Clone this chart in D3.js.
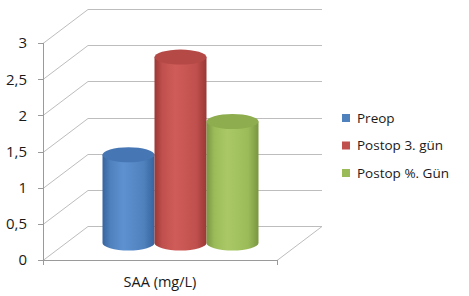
<!DOCTYPE html>
<meta charset="utf-8">
<style>
  body { margin: 0; background: #fff; }
  text { font-family: "Open Sans", "DejaVu Sans", sans-serif; fill: #1a1a1a; }
</style>
<svg width="469" height="296"></svg>
<script src="https://d3js.org/d3.v7.min.js"></script>
<script>

var category = "SAA (mg/L)";
var series = ["Preop", "Postop 3. gün", "Postop %. Gün"];
var values = [1.22, 2.57, 1.68];
var ticks = [0, 0.5, 1, 1.5, 2, 2.5, 3];
var colors = [
  {base: "#4f81bd", dark: "#37649f", light: "#5e91d0", top: "#4676b3"},
  {base: "#c0504d", dark: "#9a3836", light: "#d05c59", top: "#b44946"},
  {base: "#9bbb59", dark: "#7a9642", light: "#aac966", top: "#8dad4e"}
];

var svg = d3.select("svg");

// front plane and depth offset of the 3d box
var x0 = 43, x1 = 277, dx = 45, dy = -34;
var y = d3.scaleLinear().domain([0, 3]).range([260, 43]);
var xb = d3.scaleBand().domain(series).range([80, 236]).paddingInner(0.0);
var fmt = function(d) { return String(d).replace(".", ","); };

var grid = svg.append("g").attr("fill", "none").attr("stroke", "#bdbdbd").attr("stroke-width", 1);

ticks.forEach(function(t) {
  var yy = Math.round(y(t)) + 0.5;
  grid.append("polyline")
      .attr("points", [[x0, yy], [x0 + dx, yy + dy], [x1 + dx, yy + dy]].join(" "));
});
// floor right edge
grid.append("line")
    .attr("x1", x1).attr("y1", y(0) + 0.5)
    .attr("x2", x1 + dx).attr("y2", y(0) + dy + 0.5);

// axes
var ax = svg.append("g").attr("stroke", "#9a9a9a").attr("stroke-width", 1).attr("fill", "none");
ax.append("line").attr("x1", x0 + 0.5).attr("x2", x0 + 0.5).attr("y1", y(3)).attr("y2", y(0) + 5);
ax.append("line").attr("x1", x0).attr("x2", x1).attr("y1", y(0) + 0.5).attr("y2", y(0) + 0.5);
ax.append("line").attr("x1", x1 + 0.5).attr("x2", x1 + 0.5).attr("y1", y(0)).attr("y2", y(0) + 5);
ticks.forEach(function(t) {
  ax.append("line").attr("x1", x0 - 5).attr("x2", x0).attr("y1", Math.round(y(t)) + 0.5).attr("y2", Math.round(y(t)) + 0.5);
});

svg.append("g").selectAll("text")
  .data(ticks)
  .enter().append("text")
    .attr("x", 27)
    .attr("y", function(d) { return y(d); })
    .attr("dy", "0.36em")
    .attr("text-anchor", "end")
    .attr("font-size", 15)
    .text(fmt);

// gradients
var defs = svg.append("defs");
colors.forEach(function(c, i) {
  var g = defs.append("linearGradient").attr("id", "cyl" + i).attr("x1", 0).attr("x2", 1).attr("y1", 0).attr("y2", 0);
  g.append("stop").attr("offset", 0).attr("stop-color", c.dark);
  g.append("stop").attr("offset", 0.15).attr("stop-color", c.base);
  g.append("stop").attr("offset", 0.4).attr("stop-color", c.light);
  g.append("stop").attr("offset", 0.8).attr("stop-color", c.base);
  g.append("stop").attr("offset", 1).attr("stop-color", c.dark);
});

// cylinders at mid depth
var mx = dx / 2, my = dy / 2, ry = 7.5;
var bars = svg.append("g");
series.forEach(function(s, i) {
  var left = xb(s) + mx, w = xb.bandwidth(), rx = w / 2, right = left + w;
  var top = y(values[i]) + my, bot = y(0) + my;
  bars.append("path")
      .attr("d", "M" + left + "," + top + "L" + left + "," + bot +
        "A" + rx + "," + ry + " 0 0 0 " + right + "," + bot +
        "L" + right + "," + top + "Z")
      .attr("fill", "url(#cyl" + i + ")");
  bars.append("ellipse")
      .attr("cx", left + rx).attr("cy", top)
      .attr("rx", rx).attr("ry", ry)
      .attr("fill", colors[i].top);
});

svg.append("text")
    .attr("x", 160).attr("y", 287)
    .attr("text-anchor", "middle")
    .attr("font-size", 14.5)
    .text(category);

var legend = svg.append("g").selectAll("g")
  .data(series)
  .enter().append("g")
    .attr("transform", function(d, i) { return "translate(342," + (118 + i * 27.5) + ")"; });
legend.append("rect").attr("x", 0).attr("y", -4).attr("width", 8).attr("height", 8)
    .attr("fill", function(d, i) { return colors[i].base; });
legend.append("text").attr("x", 15).attr("dy", "0.36em").attr("font-size", 13.5).text(function(d) { return d; });

</script>
